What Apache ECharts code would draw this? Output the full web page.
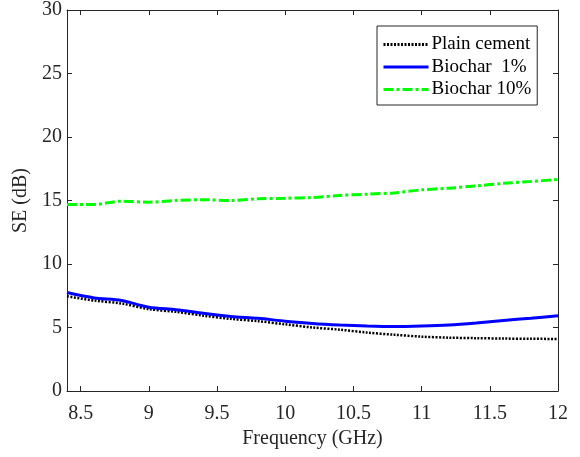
<!DOCTYPE html>
<html>
<head>
<meta charset="utf-8">
<script src="https://cdn.jsdelivr.net/npm/echarts@6/dist/echarts.min.js"></script>
<style>html,body{margin:0;padding:0;background:#fff}#c{width:580px;height:457px}</style>
</head>
<body>
<div id="c"></div>
<script>
var freq = [8.4, 8.6, 8.8, 9.0, 9.2, 9.4, 9.6, 9.8, 10.0, 10.2, 10.4, 10.6, 10.8, 11.0, 11.2, 11.4, 11.6, 11.8, 12.0];
var plainCement = [7.46, 7.12, 6.89, 6.45, 6.23, 5.93, 5.68, 5.50, 5.25, 5.00, 4.83, 4.60, 4.43, 4.28, 4.20, 4.16, 4.13, 4.11, 4.10];
var biochar1 = [7.75, 7.33, 7.12, 6.60, 6.40, 6.12, 5.87, 5.72, 5.50, 5.32, 5.20, 5.12, 5.08, 5.12, 5.20, 5.36, 5.56, 5.73, 5.92];
var biochar10 = [14.69, 14.69, 14.95, 14.87, 15.00, 15.06, 15.00, 15.13, 15.18, 15.24, 15.40, 15.50, 15.60, 15.84, 15.97, 16.15, 16.35, 16.50, 16.65];
var seriesNames = ['Plain cement', 'Biochar  1%', 'Biochar 10%'];
var xTicks = [8.5, 9, 9.5, 10, 10.5, 11, 11.5, 12];
var yTicks = [0, 5, 10, 15, 20, 25, 30];
var xTitle = 'Frequency (GHz)';
var yTitle = 'SE (dB)';

function pairs(ys) { return freq.map(function (f, i) { return [f, ys[i]]; }); }

var font = 'Liberation Serif';
var axisColor = '#262626';

var chart = echarts.init(document.getElementById('c'));
chart.setOption({
  animation: false,
  backgroundColor: '#fff',
  grid: { left: 67, right: 22, top: 9, bottom: 66, containLabel: false },
  legend: {
    orient: 'vertical',
    left: 377, top: 26,
    backgroundColor: '#fff',
    borderColor: axisColor,
    borderWidth: 1,
    padding: [9, 6, 6, 5],
    itemWidth: 45,
    itemHeight: 14,
    itemGap: 3.5,
    itemStyle: { opacity: 0 },
    lineStyle: { width: 3 },
    textStyle: { fontFamily: font, fontSize: 19, lineHeight: 19, color: '#000', padding: [0, 0, 0, -2] },
    data: seriesNames
  },
  xAxis: [{
    type: 'value', min: 8.4, max: 12,
    name: xTitle, nameLocation: 'middle', nameGap: 37,
    nameTextStyle: { fontFamily: font, fontSize: 20, color: axisColor },
    axisLine: { show: true, onZero: false, lineStyle: { color: axisColor, width: 1 } },
    axisTick: { inside: true, length: 5, customValues: xTicks, lineStyle: { color: axisColor } },
    axisLabel: { customValues: xTicks, margin: 13, fontFamily: font, fontSize: 20, color: axisColor },
    splitLine: { show: false }
  }, {
    type: 'value', min: 8.4, max: 12, position: 'top',
    axisLine: { show: true, onZero: false, lineStyle: { color: axisColor, width: 1 } },
    axisTick: { inside: true, length: 5, customValues: xTicks, lineStyle: { color: axisColor } },
    axisLabel: { show: false },
    splitLine: { show: false }
  }],
  yAxis: [{
    type: 'value', min: 0, max: 30, interval: 5,
    name: yTitle, nameLocation: 'middle', nameGap: 35,
    nameTextStyle: { fontFamily: font, fontSize: 20, color: axisColor },
    axisLine: { show: true, onZero: false, lineStyle: { color: axisColor, width: 1 } },
    axisTick: { inside: true, length: 5, lineStyle: { color: axisColor } },
    axisLabel: { margin: 5, fontFamily: font, fontSize: 20, color: axisColor },
    splitLine: { show: false }
  }, {
    type: 'value', min: 0, max: 30, interval: 5, position: 'right',
    axisLine: { show: true, onZero: false, lineStyle: { color: axisColor, width: 1 } },
    axisTick: { inside: true, length: 5, lineStyle: { color: axisColor } },
    axisLabel: { show: false },
    splitLine: { show: false }
  }],
  series: [{
    name: seriesNames[0], type: 'line', data: pairs(plainCement), smooth: 0.3,
    symbol: 'none', showSymbol: false,
    itemStyle: { color: '#000' },
    lineStyle: { color: '#000', width: 2.5, type: [2, 1.5] }
  }, {
    name: seriesNames[1], type: 'line', data: pairs(biochar1), smooth: 0.3,
    symbol: 'none', showSymbol: false,
    itemStyle: { color: '#0000ff' },
    lineStyle: { color: '#0000ff', width: 3 }
  }, {
    name: seriesNames[2], type: 'line', data: pairs(biochar10), smooth: 0.3,
    symbol: 'none', showSymbol: false,
    itemStyle: { color: '#00ff00' },
    lineStyle: { color: '#00ff00', width: 3, type: [10, 3, 3, 3] }
  }]
});
</script>
</body>
</html>
